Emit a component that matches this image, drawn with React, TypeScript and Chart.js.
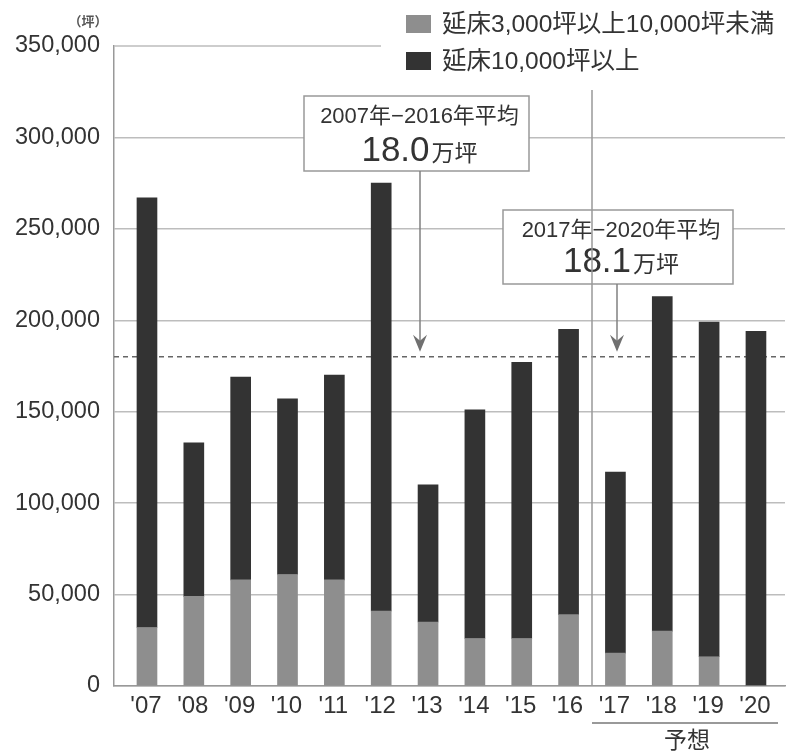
import React, { useEffect, useRef } from 'react';
import { Chart, registerables } from 'chart.js';

Chart.register(...registerables);

// ---- data ----
const years = ["'07", "'08", "'09", "'10", "'11", "'12", "'13", "'14", "'15", "'16", "'17", "'18", "'19", "'20"];
const smallSeries = [32000, 49000, 58000, 61000, 58000, 41000, 35000, 26000, 26000, 39000, 18000, 30000, 16000, 0];
const largeSeries = [235000, 84000, 111000, 96000, 112000, 234000, 75000, 125000, 151000, 156000, 99000, 183000, 183000, 194000];
const seriesNames = ['延床3,000坪以上10,000坪未満', '延床10,000坪以上'];
const yTicks = [0, 50000, 100000, 150000, 200000, 250000, 300000, 350000];
const averageValue = 180000;
const averageTitles = ['2007年−2016年平均', '2017年−2020年平均'];
const averageNumbers = ['18.0', '18.1'];
const averageUnit = '万坪';
const unitLabel = '（坪）';
const forecastLabel = '予想';
const forecastStartIndex = 10;

const FONT = '"Liberation Sans", "Noto Sans CJK JP", sans-serif';
const LIGHT = '#8e8e8e';
const DARK = '#333333';
const TEXT = '#333333';

const overlayPlugin = {
  id: 'overlay',
  beforeDatasetsDraw(chart: any) {
    const { ctx, chartArea, scales } = chart;
    const y = scales.y.getPixelForValue(averageValue);
    ctx.save();
    ctx.strokeStyle = '#666';
    ctx.lineWidth = 1.5;
    ctx.setLineDash([5, 4]);
    ctx.beginPath();
    ctx.moveTo(chartArea.left, y);
    ctx.lineTo(chartArea.right, y);
    ctx.stroke();
    ctx.restore();
  },
  afterDraw(chart: any) {
    const { ctx, chartArea, scales } = chart;
    const xs = scales.x;
    const ys = scales.y;
    ctx.save();
    // partial top gridline
    const yTop = ys.getPixelForValue(350000);
    ctx.strokeStyle = '#bdbdbd';
    ctx.lineWidth = 1.5;
    ctx.beginPath();
    ctx.moveTo(chartArea.left, yTop);
    ctx.lineTo(381, yTop);
    ctx.stroke();

    // average boxes
    const boxes = [
      { x0: 304, y0: 96, x1: 529, y1: 171, ax: 420, t1y: 117, t2y: 161 },
      { x0: 503, y0: 210, x1: 733, y1: 284, ax: 617, t1y: 231, t2y: 272 },
    ];
    const tipY = ys.getPixelForValue(averageValue) - 5;
    boxes.forEach((b, i) => {
      ctx.fillStyle = '#ffffff';
      ctx.fillRect(b.x0, b.y0, b.x1 - b.x0, b.y1 - b.y0);
      ctx.strokeStyle = '#999';
      ctx.lineWidth = 1.5;
      ctx.strokeRect(b.x0, b.y0, b.x1 - b.x0, b.y1 - b.y0);
      const cx = (b.x0 + b.x1) / 2 + 3;
      ctx.fillStyle = TEXT;
      ctx.textAlign = 'center';
      ctx.textBaseline = 'middle';
      ctx.font = `22px ${FONT}`;
      ctx.fillText(averageTitles[i], cx, b.t1y);
      ctx.textBaseline = 'alphabetic';
      ctx.font = `35px ${FONT}`;
      const wNum = ctx.measureText(averageNumbers[i]).width;
      ctx.font = `23px ${FONT}`;
      const wUnit = ctx.measureText(averageUnit).width;
      const start = cx - (wNum + wUnit + 2) / 2;
      ctx.textAlign = 'left';
      ctx.font = `35px ${FONT}`;
      ctx.fillText(averageNumbers[i], start, b.t2y);
      ctx.font = `23px ${FONT}`;
      ctx.fillText(averageUnit, start + wNum + 2, b.t2y);
      // arrow
      ctx.strokeStyle = '#808080';
      ctx.lineWidth = 1.5;
      ctx.beginPath();
      ctx.moveTo(b.ax, b.y1);
      ctx.lineTo(b.ax, tipY - 6);
      ctx.stroke();
      ctx.fillStyle = '#707070';
      ctx.beginPath();
      ctx.moveTo(b.ax, tipY);
      ctx.lineTo(b.ax - 7, tipY - 17);
      ctx.lineTo(b.ax, tipY - 11);
      ctx.lineTo(b.ax + 7, tipY - 17);
      ctx.closePath();
      ctx.fill();
    });

    // forecast separator
    const sepX = (xs.getPixelForValue(forecastStartIndex - 1) + xs.getPixelForValue(forecastStartIndex)) / 2;
    ctx.strokeStyle = '#999';
    ctx.lineWidth = 1.5;
    ctx.beginPath();
    ctx.moveTo(sepX, 90);
    ctx.lineTo(sepX, chartArea.bottom);
    ctx.stroke();

    // forecast underline + label
    ctx.strokeStyle = '#999';
    ctx.lineWidth = 2;
    ctx.beginPath();
    ctx.moveTo(sepX, 723);
    ctx.lineTo(778, 723);
    ctx.stroke();
    ctx.fillStyle = TEXT;
    ctx.textAlign = 'center';
    ctx.textBaseline = 'middle';
    ctx.font = `23px ${FONT}`;
    ctx.fillText(forecastLabel, 687, 742);

    // unit label
    ctx.font = `bold 13px "Noto Sans CJK JP", sans-serif`;
    ctx.fillStyle = '#555';
    ctx.fillText(unitLabel, 88, 21);

    // legend
    const colors = [LIGHT, DARK];
    const rows = [24, 61];
    ctx.font = `24.5px ${FONT}`;
    ctx.textAlign = 'left';
    ctx.textBaseline = 'middle';
    rows.forEach((ry, i) => {
      ctx.fillStyle = colors[i];
      ctx.fillRect(406, ry - 9, 25, 18);
      ctx.fillStyle = TEXT;
      ctx.fillText(seriesNames[i], 442, ry + 1);
    });
    ctx.restore();
  },
};

export default function App() {
  const ref = useRef<HTMLCanvasElement | null>(null);
  useEffect(() => {
    if (!ref.current) return;
    Chart.defaults.font.family = FONT;
    const chart = new Chart(ref.current, {
      type: 'bar',
      data: {
        datasets: [
          {
            label: seriesNames[0],
            data: smallSeries.map((v, i) => ({ x: i, y: v })),
            backgroundColor: LIGHT,
            barThickness: 20,
          },
          {
            label: seriesNames[1],
            data: largeSeries.map((v, i) => ({ x: i, y: v })),
            backgroundColor: DARK,
            barThickness: 20,
          },
        ],
      },
      options: {
        animation: false,
        responsive: true,
        maintainAspectRatio: false,
        layout: { padding: { top: 46, right: 4, left: 0, bottom: 0 } },
        plugins: { legend: { display: false }, tooltip: { enabled: false } },
        scales: {
          x: {
            type: 'linear',
            stacked: true,
            offset: false,
            min: -0.704,
            max: 13.62,
            afterBuildTicks: (axis: any) => {
              axis.ticks = years.map((_, i) => ({ value: i }));
            },
            afterFit: (scale: any) => {
              scale.height = 70;
            },
            grid: { display: false, drawTicks: false },
            border: { display: true, color: '#999', width: 1.5 },
            ticks: {
              autoSkip: false,
              maxRotation: 0,
              padding: 6,
              labelOffset: -1,
              color: TEXT,
              font: { size: 24, family: FONT },
              callback: (v: any) => years[v] ?? '',
            },
          },
          y: {
            stacked: true,
            min: 0,
            max: 350000,
            afterBuildTicks: (axis: any) => {
              axis.ticks = yTicks.map((v) => ({ value: v }));
            },
            afterFit: (scale: any) => {
              scale.width = 114;
            },
            grid: {
              drawTicks: false,
              lineWidth: 1.5,
              color: (c: any) => (c.tick && c.tick.value === 350000 ? 'rgba(0,0,0,0)' : '#bdbdbd'),
            },
            border: { display: true, color: '#999', width: 1.5 },
            ticks: {
              padding: 14,
              color: TEXT,
              font: { size: 23.5, family: FONT },
              callback: (v: any) => Number(v).toLocaleString('en-US'),
            },
          },
        },
      },
      plugins: [overlayPlugin],
    } as any);
    return () => chart.destroy();
  }, []);
  return (
    <div style={{ position: 'fixed', left: 0, top: 0, width: 789, height: 756, background: '#fff' }}>
      <canvas ref={ref} />
    </div>
  );
}
